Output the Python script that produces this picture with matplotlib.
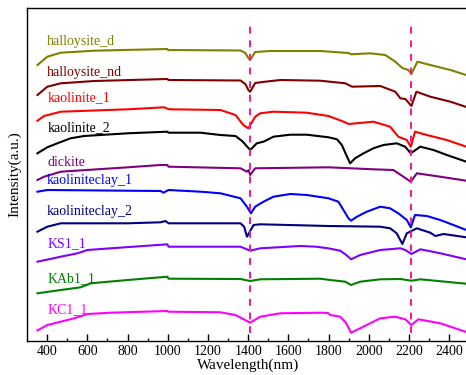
import matplotlib
matplotlib.use("Agg")
import matplotlib.pyplot as plt

plt.rcParams["font.family"] = ["Liberation Serif", "DejaVu Serif"]
plt.rcParams["font.size"] = 10

# spectra: wavelength (nm), intensity (a.u., offset per curve)
names = ["halloysite_d", "halloysite_nd", "kaolinite_1", "kaolinite_2", "dickite",
         "kaoliniteclay_1", "kaoliniteclay_2", "KS1_1", "KAb1_1", "KC1_1"]
colores = ["#808000", "#800000", "#FF0000", "#000000", "#800080",
           "#0000FF", "#000080", "#8000FF", "#008000", "#FF00FF"]

wl_hal_d = [352, 401, 468, 634, 998, 1003, 1014, 1362, 1386, 1401, 1410, 1435, 1510,
            1758, 1900, 1912, 2007, 2082, 2132, 2167, 2197, 2212, 2242, 2306, 2406, 2500]
i_hal_d = [276, 284.3, 288.3, 290.3, 292, 290.7, 291, 290.5, 288, 283, 281, 289, 290,
           290, 288, 286.7, 287.7, 286, 279.3, 273, 271, 267, 279.3, 276, 271, 265]

wl_hal_nd = [352, 401, 468, 634, 998, 1004, 1362, 1386, 1401, 1410, 1435, 1485, 1560,
             1758, 1883, 1917, 2057, 2132, 2157, 2182, 2212, 2237, 2306, 2406, 2500]
i_hal_nd = [246, 254.3, 257.7, 260, 262, 261, 260.5, 257, 251, 249.3, 258, 259.3, 261,
            260.3, 257.7, 254.3, 255, 249.3, 242.7, 242, 235, 249.3, 244.3, 239.3, 233]

wl_kao1 = [352, 385, 468, 801, 982, 1007, 1014, 1262, 1337, 1376, 1401, 1435, 1460,
           1526, 1692, 1800, 1875, 1900, 2023, 2106, 2147, 2189, 2209, 2230, 2289,
           2388, 2485, 2500]
i_kao1 = [220.3, 225, 229.3, 231.7, 233.7, 231.7, 231.7, 231, 226, 216, 212.7, 224.3,
          227.7, 229.3, 228.3, 225, 219.3, 217, 219.3, 214.3, 204.3, 201, 194.3, 209.3,
          206, 201, 194.3, 193.5]

wl_kao2 = [352, 401, 451, 517, 584, 801, 998, 1004, 1163, 1262, 1337, 1370, 1410,
           1443, 1476, 1526, 1609, 1692, 1800, 1842, 1866, 1888, 1907, 1932, 1974,
           2023, 2073, 2139, 2181, 2209, 2256, 2322, 2388, 2485, 2500]
i_kao2 = [187.7, 193.7, 197.7, 202.7, 205, 207.7, 209.3, 208.3, 208.3, 206, 205, 200,
          191, 197.7, 199.3, 204.3, 206.3, 206.3, 203.7, 201.7, 196, 186, 177.7, 182.7,
          187.7, 192.7, 196, 197.7, 194.3, 187.7, 194.3, 191, 186, 179.3, 178.5]

wl_dic = [352, 385, 468, 801, 964, 998, 1004, 1362, 1394, 1402, 1410, 1435, 1800,
          2023, 2122, 2172, 2209, 2239, 2355, 2485, 2500]
i_dic = [161, 164.3, 169.3, 173.7, 176, 176, 174.3, 172.7, 169.3, 171, 166, 172.7,
         173.7, 171.7, 171, 164.3, 159.3, 167.7, 164.3, 160.3, 159.5]

wl_kc1 = [352, 401, 964, 979, 1004, 1163, 1262, 1362, 1394, 1414, 1435, 1476, 1526,
          1609, 1692, 1800, 1849, 1874, 1899, 1912, 1941, 1990, 2057, 2106, 2147,
          2189, 2209, 2230, 2289, 2355, 2421, 2485, 2500]
i_kc1 = [149.3, 151, 150, 148.3, 151, 149.3, 147.7, 142.7, 134.3, 127.7, 134.3, 139.3,
         144.3, 147, 146, 142.7, 139.3, 131, 122.7, 120.3, 124.3, 129.3, 134.3, 132.7,
         127.7, 121, 113.7, 126, 125, 121, 116, 111, 110]

wl_kc2 = [352, 401, 468, 801, 964, 989, 1004, 1362, 1380, 1394, 1427, 1460, 1800,
          2057, 2106, 2139, 2167, 2189, 2239, 2306, 2331, 2372, 2485, 2500]
i_kc2 = [109.3, 114.3, 117.7, 117.7, 118.7, 120, 117.7, 117.7, 114.3, 104.3, 116,
         116.7, 115, 114.3, 112.7, 107.7, 97, 107.7, 112.7, 108.3, 105, 107, 103.7, 103]

wl_ks1 = [352, 468, 551, 601, 717, 998, 1004, 1362, 1410, 1460, 1659, 1738, 1798,
          1858, 1888, 1912, 1957, 2057, 2157, 2182, 2212, 2257, 2356, 2500]
i_ks1 = [79.3, 84.3, 87.7, 91, 92.7, 96.7, 94.3, 94.3, 90.3, 92.7, 95, 94.3, 92.7,
         90.3, 86, 81.7, 86, 91, 92.7, 91, 87, 91.7, 87.7, 81]

wl_kab1 = [352, 468, 567, 617, 801, 998, 1004, 1362, 1410, 1460, 1758, 1808, 1883,
           1912, 1957, 2057, 2157, 2212, 2257, 2500]
i_kab1 = [47.7, 51, 53.7, 57.7, 61, 64.3, 62.3, 62, 60, 61.7, 62.3, 61, 59.3, 56,
          59.3, 61.7, 62, 60.3, 61.7, 57]

wl_kc1_1 = [352, 401, 468, 534, 601, 717, 998, 1004, 1262, 1337, 1410, 1460, 1560,
            1758, 1798, 1808, 1858, 1888, 1912, 1957, 2057, 2132, 2182, 2212, 2247,
            2356, 2500]
i_kc1_1 = [10.5, 16, 19.3, 22.7, 27, 28.3, 30, 29.3, 28.7, 26, 18.3, 24.3, 27.7, 28.3,
           28, 26, 24.3, 17.7, 8.3, 12.7, 22.7, 24.3, 21.7, 16, 21.7, 17.7, 8]

series = [(wl_hal_d, i_hal_d), (wl_hal_nd, i_hal_nd), (wl_kao1, i_kao1),
          (wl_kao2, i_kao2), (wl_dic, i_dic), (wl_kc1, i_kc1), (wl_kc2, i_kc2),
          (wl_ks1, i_ks1), (wl_kab1, i_kab1), (wl_kc1_1, i_kc1_1)]

# posiciones de las etiquetas (x en nm, y en unidades del eje)
label_x = [401, 401, 401, 401, 401, 396, 396, 401, 401, 401]
label_y = [300, 268.3, 243.3, 213.3, 178.3, 160.3, 130, 97, 62.7, 31.7]

bandas = [1410, 2208]

fig = plt.figure(figsize=(4.66, 3.75), dpi=100)
ax = fig.add_axes([27 / 466, 34 / 375, 442.3 / 466, 333 / 375])

for (wl, inten), c in zip(series, colores):
    ax.plot(wl, inten, color=c, lw=1.5, solid_joinstyle="round")

for b in bandas:
    ax.plot([b, b], [8, 319], color="#FF1493", lw=1.4, ls=(0, (3.5, 3.5)))

for n, c, lx, ly in zip(names, colores, label_x, label_y):
    ax.text(lx, ly, n, color=c, fontsize=10, ha="left", va="center")

ax.set_xlim(300, 2500)
ax.set_ylim(0, 333)
ax.set_xticks(range(400, 2401, 200))
ax.set_xticks(range(500, 2500, 200), minor=True)
ax.set_yticks([])
ax.tick_params(axis="x", direction="in", length=5, width=1, labelsize=10, pad=3)
ax.tick_params(axis="x", which="minor", direction="in", length=2.5, width=1)
for s in ax.spines.values():
    s.set_linewidth(1)

ax.set_xlabel("Wavelength(nm)", fontsize=11, labelpad=0)
ax.set_ylabel("Intensity(a.u.)", fontsize=11, labelpad=4)

fig.savefig("out.png", dpi=100)
